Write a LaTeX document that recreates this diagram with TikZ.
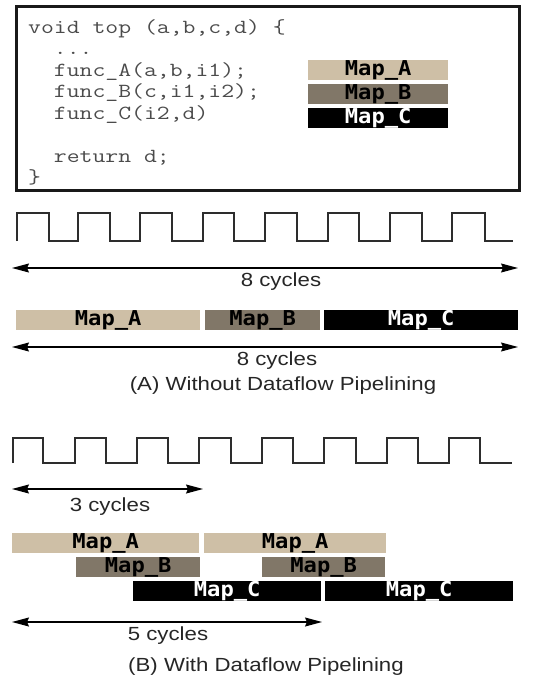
\documentclass[tikz,border=0pt]{standalone}
\usepackage{graphicx}
\usepackage{fontspec}
\setmainfont{Liberation Sans}
\newfontfamily\mapfont{DejaVu Sans Mono}
\usetikzlibrary{arrows.meta}

% horizontally widened text
\newcommand{\wtext}[2]{\scalebox{#1}[1]{#2}}

\definecolor{mapAcol}{RGB}{206,191,166}
\definecolor{mapBcol}{RGB}{129,119,104}
\definecolor{codegray}{RGB}{75,75,75}
\definecolor{wavecol}{RGB}{45,45,45}

\tikzset{
  codeline/.style={anchor=base west, inner sep=0pt, text=codegray,
    font=\ttfamily\fontsize{20}{21.5}\selectfont},
  bar/.style={inner sep=0pt, minimum height=20pt, anchor=north west,
    font=\mapfont\bfseries\fontsize{20.5}{20}\selectfont},
  barA/.style={bar, fill=mapAcol, text=black},
  barB/.style={bar, fill=mapBcol, text=black},
  barC/.style={bar, fill=black, text=white},
  span/.style={draw=black, line width=1.1pt,
    {Stealth[length=17pt,width=9pt,inset=2pt]}-{Stealth[length=17pt,width=9pt,inset=2pt]}},
  wave/.style={draw=wavecol, line width=1.8pt, line join=miter},
  lbl/.style={inner sep=0pt, font=\fontsize{19}{20}\selectfont, text=black!85},
  caption/.style={inner sep=0pt, font=\fontsize{19}{20}\selectfont, text=black!85},
}

\newcommand{\maplbl}[1]{\wtext{1.08}{Map\_#1}}
\newcommand{\codetext}[1]{\wtext{1.25}{#1}}

\begin{document}
\begin{tikzpicture}[x=1pt,y=-1pt]
  \useasboundingbox (0,0) rectangle (548,683);

  % ---- source listing ----
  \node[draw=black!90, line width=2.6pt, anchor=north west, inner sep=0pt,
        minimum width=503pt, minimum height=184pt] (codebox) at (15,5) {};
  \node[codeline] (c1) at (28,33)    {\codetext{void top (a,b,c,d) \{}};
  \node[codeline] (c2) at (28,54.5)  {\codetext{\ \ ...}};
  \node[codeline] (c3) at (28,76)    {\codetext{\ \ func\_A(a,b,i1);}};
  \node[codeline] (c4) at (28,97.5)  {\codetext{\ \ func\_B(c,i1,i2);}};
  \node[codeline] (c5) at (28,119)   {\codetext{\ \ func\_C(i2,d)}};
  \node[codeline] (c6) at (28,162)   {\codetext{\ \ return d;}};
  \node[codeline] (c7) at (28,183.5) {\codetext{\}}};

  % legend
  \node[barA, minimum width=140pt] (legA) at (308,60)  {\maplbl{A}};
  \node[barB, minimum width=140pt] (legB) at (308,84)  {\maplbl{B}};
  \node[barC, minimum width=140pt] (legC) at (308,108) {\maplbl{C}};

  % ---- (A) without dataflow pipelining ----
  \draw[wave] (17,241)
    -- (17,213) -- (49,213) -- (49,241) -- (78,241)
    -- (78,213) -- (110,213) -- (110,241) -- (140,241)
    -- (140,213) -- (172,213) -- (172,241) -- (203,241)
    -- (203,213) -- (234,213) -- (234,241) -- (265,241)
    -- (265,213) -- (297,213) -- (297,241) -- (328,241)
    -- (328,213) -- (359,213) -- (359,241) -- (390,241)
    -- (390,213) -- (422,213) -- (422,241) -- (452,241)
    -- (452,213) -- (485,213) -- (485,241) -- (513,241);

  \coordinate (a1L) at (12,268);
  \coordinate (a1R) at (518,268);
  \draw[span] (a1L) -- (a1R);
  \node[lbl] (a1t) at (281,282) {\wtext{1.17}{8 cycles}};

  \node[barA, minimum width=184pt] (sA) at (16,310)  {\maplbl{A}};
  \node[barB, minimum width=115pt] (sB) at (205,310) {\maplbl{B}};
  \node[barC, minimum width=194pt] (sC) at (324,310) {\maplbl{C}};

  \coordinate (a2L) at (12,347);
  \coordinate (a2R) at (518,347);
  \draw[span] (a2L) -- (a2R);
  \node[lbl] (a2t) at (277,361) {\wtext{1.17}{8 cycles}};

  \node[caption] (capA) at (283,386) {\wtext{1.17}{(A) Without Dataflow Pipelining}};

  % ---- (B) with dataflow pipelining ----
  \draw[wave] (13,463)
    -- (13,438) -- (43,438) -- (43,463) -- (75,463)
    -- (75,438) -- (106,438) -- (106,463) -- (137,463)
    -- (137,438) -- (168,438) -- (168,463) -- (199,463)
    -- (199,438) -- (231,438) -- (231,463) -- (262,463)
    -- (262,438) -- (293,438) -- (293,463) -- (324,463)
    -- (324,438) -- (356,438) -- (356,463) -- (387,463)
    -- (387,438) -- (418,438) -- (418,463) -- (449,463)
    -- (449,438) -- (480,438) -- (480,463) -- (512,463);

  \coordinate (b1L) at (12,489);
  \coordinate (b1R) at (203,489);
  \draw[span] (b1L) -- (b1R);
  \node[lbl] (b1t) at (110,507) {\wtext{1.17}{3 cycles}};

  \node[barA, minimum width=187pt] (pA1) at (12,533)  {\maplbl{A}};
  \node[barA, minimum width=182pt] (pA2) at (204,533) {\maplbl{A}};
  \node[barB, minimum width=124pt] (pB1) at (76,557)  {\maplbl{B}};
  \node[barB, minimum width=123pt] (pB2) at (262,557) {\maplbl{B}};
  \node[barC, minimum width=188pt] (pC1) at (133,581) {\maplbl{C}};
  \node[barC, minimum width=188pt] (pC2) at (325,581) {\maplbl{C}};

  \coordinate (b2L) at (12,622);
  \coordinate (b2R) at (322,622);
  \draw[span] (b2L) -- (b2R);
  \node[lbl] (b2t) at (168,636) {\wtext{1.17}{5 cycles}};

  \node[caption] (capB) at (266,667) {\wtext{1.17}{(B) With Dataflow Pipelining}};
\end{tikzpicture}
\end{document}
